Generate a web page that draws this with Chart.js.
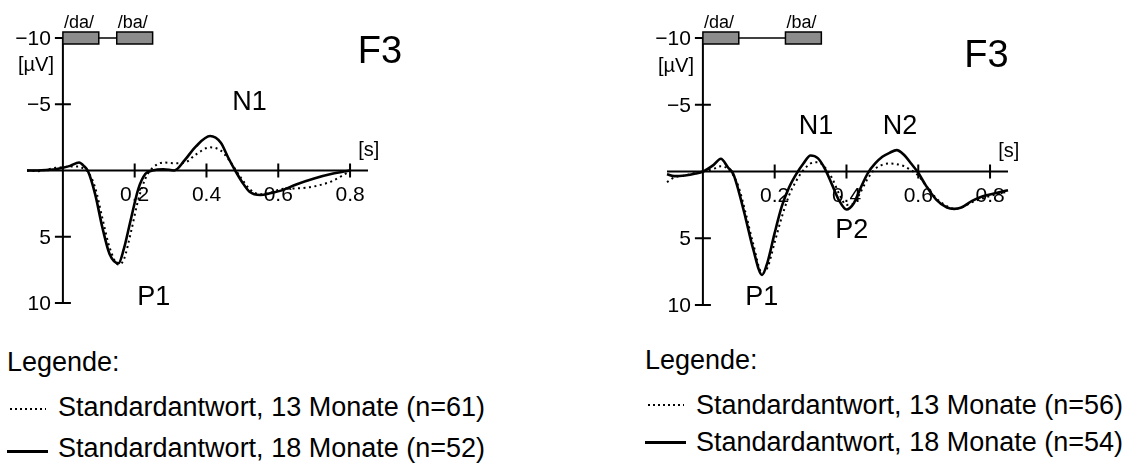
<!DOCTYPE html>
<html>
<head>
<meta charset="utf-8">
<script src="https://cdn.jsdelivr.net/npm/chart.js@4.4.0/dist/chart.umd.min.js"></script>
<style>
  body { margin: 0; background: #fff; width: 1123px; height: 464px; overflow: hidden; position: relative;
         font-family: "Liberation Sans", Arial, sans-serif; color: #000; }
  canvas { position: absolute; top: 0; }
  .legend { position: absolute; top: 0; font-size: 27px; line-height: 27px; }
  .legend .row { position: absolute; white-space: nowrap; }
  .legend .sample { position: absolute; height: 2px; }
  .legend .dotted { background: repeating-linear-gradient(90deg, #000 0 2px, transparent 2px 5px); }
  .legend .solid { background: #000; height: 3px; }
</style>
</head>
<body>
<canvas id="chartLeft" width="560" height="340" style="left:0"></canvas>
<canvas id="chartRight" width="563" height="340" style="left:560px"></canvas>
<div class="legend" id="legendLeft"></div>
<div class="legend" id="legendRight"></div>

<script>
// tick values
const xTicks = [0.2, 0.4, 0.6, 0.8];
const yTicks = [-10, -5, 5, 10];

// left panel
const timeL = [-0.1, -0.07, -0.04, -0.02, 0, 0.02, 0.045, 0.06, 0.07, 0.09, 0.11, 0.13, 0.155, 0.17, 0.19,
  0.21, 0.23, 0.25, 0.28, 0.31, 0.34, 0.37, 0.41, 0.44, 0.46, 0.48, 0.50, 0.52, 0.55, 0.58, 0.61, 0.65, 0.70, 0.75, 0.80];
const dottedL = [0, 0.05, -0.1, -0.2, -0.25, -0.3, -0.3, -0.1, 0.1, 1.3, 3.6, 5.8, 7.1, 6.7, 4.6,
  2.2, 0.6, -0.2, -0.6, -0.55, -0.6, -1.2, -1.75, -1.5, -0.9, -0.1, 0.7, 1.4, 1.8, 1.65, 1.4, 1.35, 1.2, 0.8, 0.05];
const solidL = [0, 0, -0.05, -0.1, -0.2, -0.35, -0.6, -0.3, 0.05, 1.8, 4.3, 6.3, 7.0, 5.9, 3.6,
  1.4, 0.25, 0, -0.1, 0, -0.8, -1.8, -2.6, -2.1, -1.0, 0, 0.9, 1.6, 1.85, 1.7, 1.5, 1.05, 0.6, 0.25, 0];

// right panel
const timeR = [-0.1, -0.08, -0.05, -0.02, 0, 0.03, 0.05, 0.07, 0.085, 0.10, 0.12, 0.14, 0.165, 0.18, 0.20,
  0.22, 0.24, 0.26, 0.28, 0.30, 0.32, 0.34, 0.36, 0.38, 0.40, 0.42, 0.44, 0.46, 0.48, 0.50, 0.52, 0.54,
  0.56, 0.58, 0.60, 0.62, 0.65, 0.68, 0.70, 0.72, 0.75, 0.78, 0.82, 0.85];
const dottedR = [0.8, 0.45, 0.3, 0.1, 0, -0.2, -0.4, -0.2, 0.3, 1.2, 3.2, 5.4, 7.6, 7.2, 5.3,
  3.4, 1.8, 0.7, -0.1, -0.6, -0.7, -0.3, 0.5, 1.7, 2.5, 2.4, 1.5, 0.5, -0.2, -0.5, -0.6, -0.55,
  -0.4, -0.1, 0.3, 1.0, 2.0, 2.6, 2.8, 2.7, 2.3, 2.0, 1.7, 1.5];
const solidR = [0.2, 0.35, 0.3, 0.15, 0, -0.5, -0.95, -0.3, 0.2, 1.5, 3.6, 5.8, 7.75, 6.8, 4.6,
  2.6, 1.2, 0.2, -0.6, -1.2, -1.0, -0.2, 1.0, 2.2, 2.85, 2.4, 1.2, 0.1, -0.6, -1.1, -1.4, -1.6,
  -1.25, -0.6, 0.1, 1.0, 2.1, 2.7, 2.8, 2.7, 2.2, 1.85, 1.6, 1.4];

const seriesLabels = ['Standardantwort, 13 Monate', 'Standardantwort, 18 Monate'];
const countsL = [61, 52];
const countsR = [56, 54];

const FONT = '"Liberation Sans", Arial, sans-serif';

function fmtTick(v) {
  return v < 0 ? '\u2212' + Math.abs(v) : String(v);
}

// axes through the origin, tick marks, labels, stimulus boxes, peak names
const erpAxes = {
  id: 'erpAxes',
  beforeDatasetsDraw(chart, args, opts) {
    const { ctx, scales: { x, y } } = chart;
    const x0 = x.getPixelForValue(0);
    const y0 = y.getPixelForValue(0);
    ctx.save();
    ctx.strokeStyle = '#000';
    ctx.fillStyle = '#000';
    ctx.lineWidth = 2;

    ctx.beginPath();
    ctx.moveTo(x.left, y0);
    ctx.lineTo(x.right, y0);
    ctx.moveTo(x0, y.getPixelForValue(-10));
    ctx.lineTo(x0, y.getPixelForValue(10));
    xTicks.forEach(v => {
      const px = x.getPixelForValue(v);
      ctx.moveTo(px, y0 - 7);
      ctx.lineTo(px, y0 + 7);
    });
    yTicks.forEach(v => {
      const py = y.getPixelForValue(v);
      ctx.moveTo(x0 - 8, py);
      ctx.lineTo(x0 + 8, py);
    });
    ctx.stroke();

    // stimulus bar at -10
    const yb = y.getPixelForValue(-10);
    ctx.lineWidth = 1.5;
    ctx.beginPath();
    ctx.moveTo(x.getPixelForValue(opts.stimuli[0][1]), yb);
    ctx.lineTo(x.getPixelForValue(opts.stimuli[1][0]), yb);
    ctx.stroke();
    ctx.font = '18px ' + FONT;
    ctx.textAlign = 'left';
    ctx.textBaseline = 'alphabetic';
    opts.stimuli.forEach(([a, b, name]) => {
      const xa = x.getPixelForValue(a), xb = x.getPixelForValue(b);
      ctx.fillStyle = '#8c8c8c';
      ctx.fillRect(xa, yb - 6, xb - xa, 12);
      ctx.strokeRect(xa, yb - 6, xb - xa, 12);
      ctx.fillStyle = '#000';
      ctx.fillText(name, xa + 1, yb - 10);
    });

    // tick labels
    ctx.font = '21px ' + FONT;
    ctx.textAlign = 'center';
    ctx.textBaseline = 'top';
    xTicks.forEach(v => ctx.fillText(v.toFixed(1), x.getPixelForValue(v), y0 + 14));
    ctx.textAlign = 'right';
    ctx.textBaseline = 'middle';
    yTicks.forEach(v => ctx.fillText(fmtTick(v), x0 - 12, y.getPixelForValue(v) + 1));

    // units
    ctx.font = '20px ' + FONT;
    ctx.textAlign = 'center';
    ctx.fillText('[\u00b5V]', x.getPixelForValue(-0.075), y.getPixelForValue(-7.9));
    ctx.fillText('[s]', x.getPixelForValue(0.852), y.getPixelForValue(-1.5));
    ctx.restore();
  },
  afterDatasetsDraw(chart, args, opts) {
    const { ctx, scales: { x, y } } = chart;
    ctx.save();
    ctx.fillStyle = '#000';
    ctx.textAlign = 'center';
    ctx.textBaseline = 'middle';
    ctx.font = '38px ' + FONT;
    ctx.fillText(opts.title[0], x.getPixelForValue(opts.title[1]), y.getPixelForValue(opts.title[2]));
    ctx.font = '27px ' + FONT;
    opts.peaks.forEach(([name, t, v]) => ctx.fillText(name, x.getPixelForValue(t), y.getPixelForValue(v)));
    ctx.restore();
  }
};

function makeChart(id, time, dotted, solid, padding, pluginOpts) {
  const pts = vals => time.map((t, i) => ({ x: t, y: vals[i] }));
  return new Chart(document.getElementById(id), {
    type: 'line',
    data: {
      datasets: [
        { label: seriesLabels[0], data: pts(dotted), borderColor: '#000', borderWidth: 2,
          borderDash: [2, 3.5], cubicInterpolationMode: 'monotone', clip: false },
        { label: seriesLabels[1], data: pts(solid), borderColor: '#000', borderWidth: 2.6,
          cubicInterpolationMode: 'monotone', clip: false }
      ]
    },
    options: {
      responsive: false,
      animation: false,
      devicePixelRatio: 1,
      layout: { padding },
      elements: { point: { radius: 0 } },
      scales: {
        x: { type: 'linear', min: -0.1, max: 0.85, display: false },
        y: { type: 'linear', min: -10, max: 10, reverse: true, display: false }
      },
      plugins: {
        legend: { display: false },
        tooltip: { enabled: false },
        erpAxes: pluginOpts
      }
    },
    plugins: [erpAxes]
  });
}

makeChart('chartLeft', timeL, dottedL, solidL, { left: 27, right: 192, top: 38, bottom: 37 }, {
  stimuli: [[0, 0.1, '/da/'], [0.15, 0.25, '/ba/']],
  title: ['F3', 0.883, -8.9],
  peaks: [['N1', 0.52, -5.1], ['P1', 0.253, 9.6]]
});

makeChart('chartRight', timeR, dottedR, solidR, { left: 107, right: 115, top: 38, bottom: 35 }, {
  stimuli: [[0, 0.1, '/da/'], [0.23, 0.33, '/ba/']],
  title: ['F3', 0.79, -8.6],
  peaks: [['N1', 0.315, -3.4], ['N2', 0.549, -3.4], ['P2', 0.415, 4.4], ['P1', 0.164, 9.45]]
});

// legend built from the dataset labels; baselines given per row
function buildLegend(id, left, baselines, lineYs, counts) {
  const box = document.getElementById(id);
  box.style.left = left + 'px';
  let html = '<div class="row" style="left:7px;top:' + (baselines[0] - 23) + 'px">Legende:</div>';
  seriesLabels.forEach((lab, i) => {
    const top = baselines[i + 1] - 23;
    html += '<div class="sample ' + (i === 0 ? 'dotted' : 'solid') + '" style="left:' + (i === 0 ? 10 : 7) +
      'px;width:' + (i === 0 ? 36 : 41) + 'px;top:' + lineYs[i] + 'px"></div>' +
      '<div class="row" style="left:58px;top:' + top + 'px">' + lab + ' (n=' + counts[i] + ')</div>';
  });
  box.innerHTML = html;
}
buildLegend('legendLeft', 0, [372, 417, 458], [408, 450], countsL);
buildLegend('legendRight', 638, [370, 415, 452], [404, 441], countsR);
</script>
</body>
</html>
